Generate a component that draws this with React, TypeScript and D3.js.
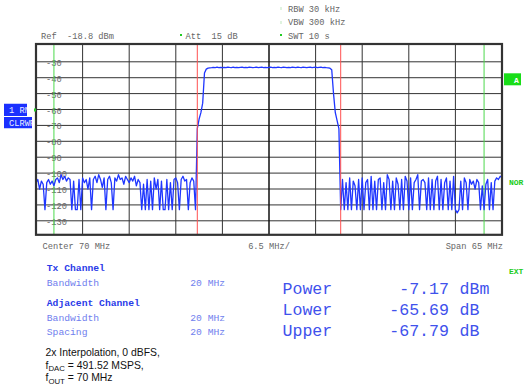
import React from "react";
import * as d3 from "d3";

// ---------------- DATA ----------------
const CENTER_MHZ = 70;
const SPAN_MHZ = 65;
const REF_LEVEL = -18.8;
const RANGE_DB = 120;
const STEP_MHZ = 0.25;
const START_MHZ = CENTER_MHZ - SPAN_MHZ / 2; // 37.5

const levelTicks = [-30, -40, -50, -60, -70, -80, -90, -100, -110, -120, -130];
const channelEdges = [60, 80];
const adjacentEdges = [40, 100];

// 37.5 .. 59.75 MHz
const leftNoise = [
  -106, -104, -110, -105, -107, -123, -106, -104, -107, -105,
  -108, -104, -103, -106, -101, -104, -102, -105, -103, -104,
  -123, -105, -123, -123, -104, -123, -103, -106, -104, -110,
  -103, -123, -104, -102, -106, -101, -104, -109, -103, -123,
  -104, -102, -106, -123, -103, -105, -101, -104, -103, -107,
  -102, -104, -106, -103, -105, -102, -108, -104, -106, -123,
  -107, -123, -104, -123, -105, -123, -103, -110, -104, -123,
  -105, -123, -123, -104, -123, -106, -123, -104, -103, -106,
  -123, -104, -102, -105, -104, -123, -106, -103, -105, -123,
];

// 60.0 .. 80.0 MHz
const channelLevels = [
  -72, -66, -62, -56, -37, -34.6, -34.0, -33.8,
  -33.7, -33.5, -33.6, -33.4, -33.6, -33.5, -33.7, -33.5, -33.6, -33.3,
  -33.5, -33.6, -33.4, -33.7, -33.5, -33.6, -33.5, -33.4, -33.6, -33.5,
  -33.7, -33.4, -33.5, -33.6, -33.5, -33.3, -33.6, -33.5, -33.4, -33.6,
  -33.5, -33.7, -33.5, -33.4, -33.6, -33.5, -33.6, -33.3, -33.5, -33.6,
  -33.4, -33.5, -33.7, -33.5, -33.6, -33.4, -33.5, -33.6, -33.3, -33.5,
  -33.6, -33.4, -33.5, -33.7, -33.5, -33.4, -33.6, -33.5, -33.4, -33.6,
  -33.5, -33.4, -33.6, -33.5, -33.7, -33.8,
  -34.0, -35.0, -50, -62, -67, -72, -123,
];

// 80.25 .. 102.5 MHz
const rightNoise = [
  -104, -123, -106, -123, -103, -123, -105, -108, -123, -104,
  -123, -103, -123, -106, -104, -123, -102, -123, -105, -123,
  -104, -103, -123, -106, -123, -101, -104, -123, -105, -123,
  -103, -107, -123, -104, -123, -102, -105, -123, -103, -123,
  -106, -104, -101, -123, -105, -104, -106, -123, -103, -123,
  -104, -123, -105, -102, -123, -104, -123, -106, -103, -123,
  -105, -123, -102, -123, -125, -123, -105, -123, -103, -106,
  -123, -104, -107, -105, -110, -104, -106, -123, -108, -123,
  -107, -104, -123, -106, -123, -105, -103, -104, -102, -103,
];

const headerLeft = ["Ref  -18.8 dBm", "Att  15 dB"];
const headerRight = ["RBW 30 kHz", "VBW 300 kHz", "SWT 10 s"];
const footer = ["Center 70 MHz", "6.5 MHz/", "Span 65 MHz"];
const resultLabels = ["Power", "Lower", "Upper"];
const resultValues = ["-7.17", "-65.69", "-67.79"];
const resultUnits = ["dBm", "dB", "dB"];

// ---------------- LAYOUT ----------------
const W = 525;
const H = 391;
const PL = 36, PR = 502, PT = 44, PB = 234.8;

const MONO = "'Liberation Mono', 'DejaVu Sans Mono', monospace";
const SANS = "'Liberation Sans', Arial, sans-serif";
const GREY = "#666";
const BLUE_T = "#2a3be8";
const BLUE_L = "#7080ee";

export default function App() {
  const x = d3.scaleLinear().domain([START_MHZ, START_MHZ + SPAN_MHZ]).range([PL, PR]);
  const y = d3.scaleLinear().domain([REF_LEVEL, REF_LEVEL - RANGE_DB]).range([PT, PB]);

  const levels = [...leftNoise, ...channelLevels, ...rightNoise];
  const pts: [number, number][] = levels.map((v, i) => [START_MHZ + i * STEP_MHZ, v]);
  const line = d3.line<[number, number]>().x((d) => x(d[0])).y((d) => y(d[1]));

  const vTicks = d3.range(1, 10).map((k) => START_MHZ + k * (SPAN_MHZ / 10));

  return (
    <svg width={W} height={H} style={{ position: "absolute", left: 0, top: 0, background: "#fff" }}
      xmlns="http://www.w3.org/2000/svg">
      <rect x={0} y={0} width={W} height={H} fill="#fff" />

      {/* header */}
      <text x={41} y={38.8} fontFamily={MONO} fontSize={8.7} fill={GREY} xmlSpace="preserve">{headerLeft[0]}</text>
      <rect x={180} y={34} width={2} height={2} fill="#22cc22" />
      <text x={185.5} y={38.8} fontFamily={MONO} fontSize={8.7} fill={GREY} xmlSpace="preserve">{headerLeft[1]}</text>
      <rect x={280.5} y={7} width={1} height={3} fill="#bfe8bf" />
      <rect x={280.5} y={21} width={1} height={3} fill="#bfe8bf" />
      <rect x={280} y={34} width={2} height={2} fill="#22cc22" />
      {headerRight.map((t, i) => (
        <text key={t} x={288} y={11.7 + i * 13.6} fontFamily={MONO} fontSize={8.7} fill={GREY}>{t}</text>
      ))}

      {/* grid */}
      {levelTicks.map((v) => (
        <line key={"h" + v} x1={PL} x2={PR} y1={y(v)} y2={y(v)} stroke="#333" strokeWidth={1} />
      ))}
      {vTicks.map((f, k) => (
        <line key={"v" + k} x1={x(f)} x2={x(f)} y1={PT} y2={PB} stroke={k === 4 ? "#111" : "#333"} strokeWidth={k === 4 ? 1.5 : 1} />
      ))}
      {levelTicks.map((v) => (
        <text key={"l" + v} x={46} y={y(v) + 4} fontFamily={MONO} fontSize={8.7} fill={GREY}>{v}</text>
      ))}

      {/* adjacent and channel limits */}
      {adjacentEdges.map((f) => (
        <line key={"g" + f} x1={x(f)} x2={x(f)} y1={PT} y2={PB} stroke="#4cd94c" strokeWidth={1} />
      ))}

      {/* trace */}
      <path d={line(pts) || ""} fill="none" stroke="#1f36ff" strokeWidth={1.3} strokeLinejoin="round" />

      {channelEdges.map((f) => (
        <line key={"r" + f} x1={x(f)} x2={x(f)} y1={PT} y2={PB} stroke="#ff5050" strokeWidth={1} />
      ))}

      {/* frame */}
      <rect x={PL} y={PT} width={PR - PL} height={PB - PT} fill="none" stroke="#333" strokeWidth={2.2} />

      {/* footer */}
      <text x={42.5} y={249.3} fontFamily={MONO} fontSize={8.7} fill={GREY} xmlSpace="preserve">{footer[0]}</text>
      <text x={x(CENTER_MHZ)} y={249.3} textAnchor="middle" fontFamily={MONO} fontSize={8.7} fill={GREY}>{footer[1]}</text>
      <text x={503} y={249.3} textAnchor="end" fontFamily={MONO} fontSize={8.7} fill={GREY}>{footer[2]}</text>

      {/* left badges */}
      <svg x={4} y={103.5} width={23} height={12.5}>
        <rect width={23} height={12.5} fill="#1a30ff" />
        <text x={5} y={9.5} fontFamily={MONO} fontSize={8.7} fill="#e8ecff" xmlSpace="preserve">1 RM</text>
      </svg>
      <svg x={4} y={117} width={28} height={11.5}>
        <rect width={28} height={11.5} fill="#1a30ff" />
        <text x={5} y={9} fontFamily={MONO} fontSize={8.7} fill="#e8ecff">CLRWR</text>
      </svg>
      <rect x={34} y={108.5} width={2} height={3} fill="#22cc22" />

      {/* right badges */}
      <rect x={504} y={73.3} width={17} height={12} fill="#18dd18" />
      <text x={516.5} y={82.8} textAnchor="middle" fontFamily={MONO} fontSize={8} fontWeight="bold" fill="#fff">A</text>
      <text x={509} y={185.3} fontFamily={MONO} fontSize={8} fontWeight="bold" fill="#22cc22">NOR</text>
      <text x={509} y={274} fontFamily={MONO} fontSize={8} fontWeight="bold" fill="#22cc22">EXT</text>

      {/* channel settings */}
      <text x={46.8} y={271} fontFamily={MONO} fontSize={9.7} fontWeight="bold" fill={BLUE_T}>Tx Channel</text>
      <text x={46.8} y={286} fontFamily={MONO} fontSize={9.7} fill={BLUE_L}>Bandwidth</text>
      <text x={190.3} y={286} fontFamily={MONO} fontSize={9.7} fill={BLUE_L}>20 MHz</text>
      <text x={46.8} y={306} fontFamily={MONO} fontSize={9.7} fontWeight="bold" fill={BLUE_T}>Adjacent Channel</text>
      <text x={46.8} y={321} fontFamily={MONO} fontSize={9.7} fill={BLUE_L}>Bandwidth</text>
      <text x={190.3} y={321} fontFamily={MONO} fontSize={9.7} fill={BLUE_L}>20 MHz</text>
      <text x={46.8} y={335} fontFamily={MONO} fontSize={9.7} fill={BLUE_L}>Spacing</text>
      <text x={190.3} y={335} fontFamily={MONO} fontSize={9.7} fill={BLUE_L}>20 MHz</text>

      {/* notes */}
      <text x={45.5} y={356} fontFamily={SANS} fontSize={10.4} fill="#111">2x Interpolation, 0 dBFS,</text>
      <text x={45.5} y={368.5} fontFamily={SANS} fontSize={10.4} fill="#111">
        f<tspan fontSize={7.8} dy={2.6}>DAC</tspan><tspan dy={-2.6}> = 491.52 MSPS,</tspan>
      </text>
      <text x={45.5} y={381} fontFamily={SANS} fontSize={10.4} fill="#111">
        f<tspan fontSize={7.8} dy={2.6}>OUT</tspan><tspan dy={-2.6}> = 70 MHz</tspan>
      </text>

      {/* results */}
      {resultLabels.map((t, i) => (
        <g key={t}>
          <text x={282.5} y={293.5 + i * 21} fontFamily={MONO} fontSize={16.6} fill="#3f52ec">{t}</text>
          <text x={449} y={293.5 + i * 21} textAnchor="end" fontFamily={MONO} fontSize={16.6} fill="#3f52ec">{resultValues[i]}</text>
          <text x={459.5} y={293.5 + i * 21} fontFamily={MONO} fontSize={16.6} fill="#3f52ec">{resultUnits[i]}</text>
        </g>
      ))}
    </svg>
  );
}
